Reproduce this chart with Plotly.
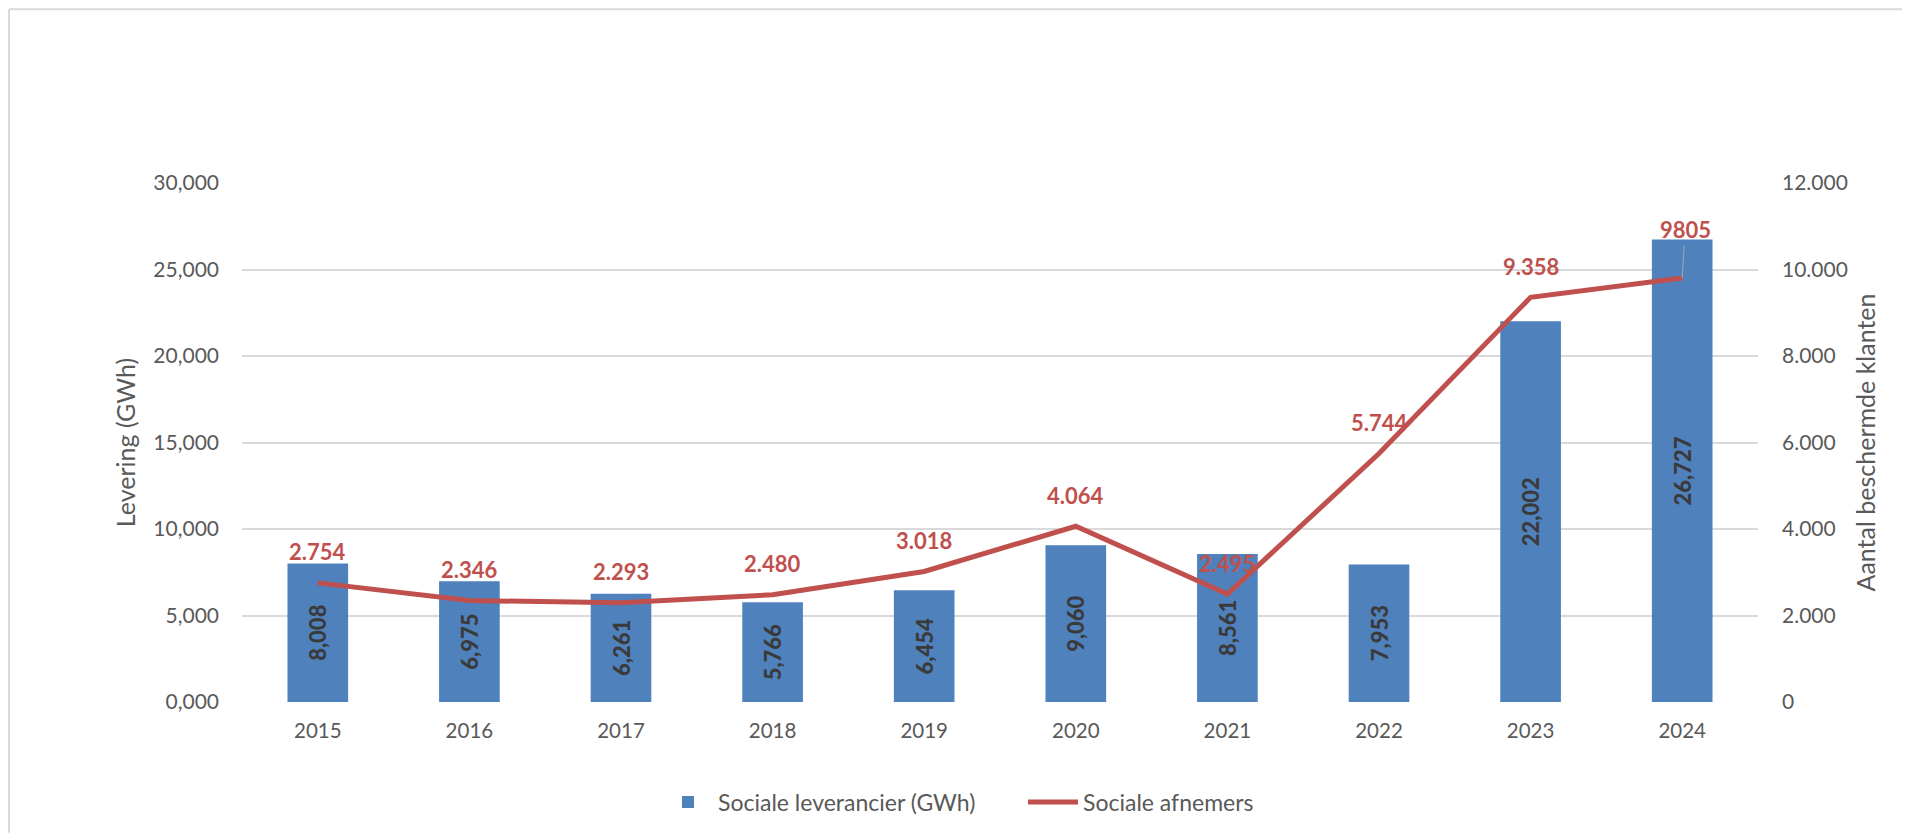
import plotly.graph_objects as go

years = ["2015", "2016", "2017", "2018", "2019", "2020", "2021", "2022", "2023", "2024"]
levering = [8008, 6975, 6261, 5766, 6454, 9060, 8561, 7953, 22002, 26727]
levering_labels = ["8,008", "6,975", "6,261", "5,766", "6,454", "9,060", "8,561", "7,953", "22,002", "26,727"]
afnemers = [2754, 2346, 2293, 2480, 3018, 4064, 2495, 5744, 9358, 9805]
afnemers_labels = ["2.754", "2.346", "2.293", "2.480", "3.018", "4.064", "2.495", "5.744", "9.358", "9805"]
left_ticks = [0, 5000, 10000, 15000, 20000, 25000, 30000]
left_ticktext = ["0,000", "5,000", "10,000", "15,000", "20,000", "25,000", "30,000"]
right_ticks = [0, 2000, 4000, 6000, 8000, 10000, 12000]
right_ticktext = ["0", "2.000", "4.000", "6.000", "8.000", "10.000", "12.000"]

FONT = "Lato, 'Open Sans', sans-serif"
GREY = "#595959"
BLUE = "#4f81bd"
RED = "#c0504d"

W, H = 1902, 826
L, R, T, B = 234, 152, 175, 131
PW, PH = W - L - R, H - T - B

fig = go.Figure()
fig.add_trace(go.Bar(
    x=years, y=levering, name="Sociale leverancier (GWh)",
    marker=dict(color=BLUE, line=dict(width=0)),
    text=levering_labels, texttemplate="%{text}", textposition="inside",
    insidetextanchor="middle", textangle=-90,
    textfont=dict(family=FONT, size=22, color="#3a3a3a", weight=900),
    cliponaxis=False,
))
fig.add_trace(go.Scatter(
    x=years, y=afnemers, name="Sociale afnemers", yaxis="y2",
    mode="lines", line=dict(color=RED, width=5),
))

annotations = []
for i, (v, lab) in enumerate(zip(afnemers, afnemers_labels)):
    if i == len(afnemers) - 1:
        annotations.append(dict(
            x=i, y=v, xref="x", yref="y2", text=lab, showarrow=True,
            arrowhead=0, arrowwidth=1, arrowcolor="#a6a6a6", ax=3, ay=-48,
            font=dict(family=FONT, size=22, color=RED, weight="bold"),
        ))
    else:
        annotations.append(dict(
            x=i, y=v, xref="x", yref="y2", text=lab, showarrow=False,
            yshift=31, font=dict(family=FONT, size=22, color=RED, weight="bold"),
        ))

fig.update_layout(
    width=W, height=H,
    margin=dict(l=L, r=R, t=T, b=B),
    paper_bgcolor="white", plot_bgcolor="white",
    font=dict(family=FONT, color=GREY, size=20),
    bargap=0.6,
    showlegend=True,
    legend=dict(orientation="h", x=(650 - L) / PW, xanchor="left",
                y=-(794 - (T + PH)) / PH, yanchor="middle",
                font=dict(family=FONT, size=23, color=GREY), itemwidth=50,
                entrywidth=300, traceorder="normal"),
    xaxis=dict(type="category", showgrid=False, showline=False, ticks="",
               tickfont=dict(family=FONT, size=20.5, color=GREY), ticklabelstandoff=14),
    yaxis=dict(range=[0, 30000], tickvals=left_ticks, ticktext=left_ticktext,
               showgrid=True, gridcolor="#d9d9d9", gridwidth=1.5, zeroline=False,
               tickfont=dict(family=FONT, size=21, color=GREY), ticklabelstandoff=22,
               title=dict(text="Levering (GWh)", font=dict(family=FONT, size=25, color=GREY), standoff=10)),
    yaxis2=dict(range=[0, 12000], tickvals=right_ticks, ticktext=right_ticktext,
                overlaying="y", side="right", showgrid=False, zeroline=False,
                tickfont=dict(family=FONT, size=21, color=GREY), ticklabelstandoff=23,
                title=dict(text="Aantal beschermde klanten", font=dict(family=FONT, size=25, color=GREY), standoff=10)),
    annotations=annotations,
    shapes=[
        dict(type="line", xref="paper", yref="paper", x0=-(L - 1) / PW, x1=1 + R / PW,
             y0=1 + (T - 1) / PH, y1=1 + (T - 1) / PH, line=dict(color="#d9d9d9", width=2)),
        dict(type="line", xref="paper", yref="paper", x0=-(L - 1) / PW, x1=-(L - 1) / PW,
             y0=1 + (T - 1) / PH, y1=-B / PH, line=dict(color="#d9d9d9", width=2)),
    ],
)

fig.write_html("out.html")
